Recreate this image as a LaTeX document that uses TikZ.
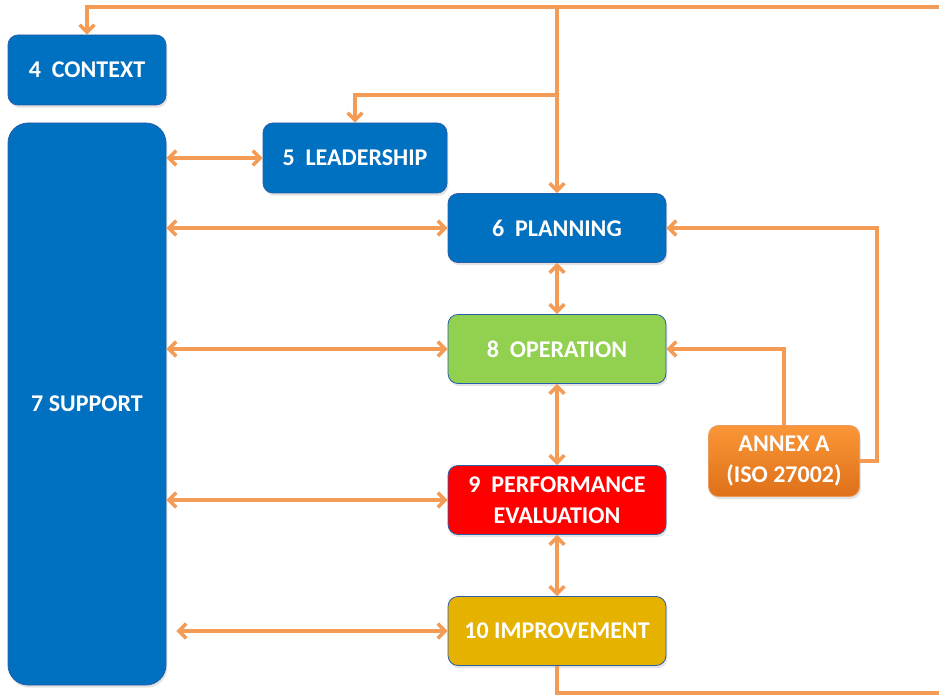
\documentclass[tikz,border=0pt]{standalone}
\usepackage{fontspec}
\setmainfont{Carlito}
\usetikzlibrary{arrows.meta,shadows}
\definecolor{bblue}{RGB}{0,112,192}
\definecolor{bborder}{RGB}{40,95,170}
\definecolor{lorange}{RGB}{244,155,85}
\definecolor{opgreen}{RGB}{146,208,80}
\definecolor{pfred}{RGB}{255,0,0}
\definecolor{imgold}{RGB}{230,178,0}
\definecolor{anxtop}{RGB}{250,150,55}
\definecolor{anxbot}{RGB}{222,112,25}
\begin{document}
\begin{tikzpicture}[x=0.75pt,y=-0.75pt,
  box/.style={rectangle, rounded corners=7.5pt, draw=bborder, line width=0.6pt,
    text=white, font=\fontsize{18}{23}\selectfont\bfseries, align=center, inner sep=0pt,
    drop shadow={opacity=0.22, shadow xshift=1pt, shadow yshift=-2pt}},
  wide/.style={minimum width=163.5pt, minimum height=51.75pt},
  link/.style={draw=lorange, line width=2.6pt},
  tip/.style={-{Straight Barb[length=5.5pt,width=11pt]}},
  both/.style={{Straight Barb[length=5.5pt,width=11pt]}-{Straight Barb[length=5.5pt,width=11pt]}}
]
\useasboundingbox (0,0) rectangle (939,695);
\fill[white] (0,0) rectangle (939,695);

\node[box, fill=bblue, minimum width=118.5pt, minimum height=52.5pt] (context) at (87,70) {4\ \ CONTEXT};
\node[box, fill=bblue, rounded corners=15pt, minimum width=118.5pt, minimum height=421.5pt] (support) at (87,404) {7 SUPPORT};
\node[box, fill=bblue, minimum width=138pt, minimum height=52.5pt] (leadership) at (355,158) {5\ \ LEADERSHIP};
\node[box, fill=bblue, wide] (planning) at (557,228) {6\ \ PLANNING};
\node[box, fill=opgreen, wide] (operation) at (557,349) {8\ \ OPERATION};
\node[box, fill=pfred, wide] (performance) at (557,500) {9\ \ PERFORMANCE\\EVALUATION};
\node[box, fill=imgold, wide] (improvement) at (557,631) {10 IMPROVEMENT};
\node[box, draw=anxbot!70!white, top color=anxtop, bottom color=anxbot, minimum width=113.25pt, minimum height=53.25pt] (annex) at (784,461) {ANNEX A\\(ISO 27002)};

\coordinate (tr) at (939,7);
\coordinate (lj) at (557,95);
\coordinate (br) at (939,693);

\draw[link, tip] (tr) -| (context.north);
\draw[link, tip] (planning.north |- tr) -- (planning.north);
\draw[link, tip] (lj) -| (leadership.north);
\draw[link] (improvement.south) |- (br);

\draw[link, both] (support.east |- leadership.west) -- (leadership.west);
\draw[link, both] (support.east |- planning.west) -- (planning.west);
\draw[link, both] (support.east |- operation.west) -- (operation.west);
\draw[link, both] (support.east |- performance.west) -- (performance.west);
\draw[link, both] ([xshift=7.5pt]support.east |- improvement.west) -- (improvement.west);

\draw[link, both] (planning.south) -- (operation.north);
\draw[link, both] (operation.south) -- (performance.north);
\draw[link, both] (performance.south) -- (improvement.north);

\draw[link, tip] (annex.north) |- (operation.east);
\draw[link, tip] (annex.east) -- ++(17,0) |- (planning.east);
\end{tikzpicture}
\end{document}
